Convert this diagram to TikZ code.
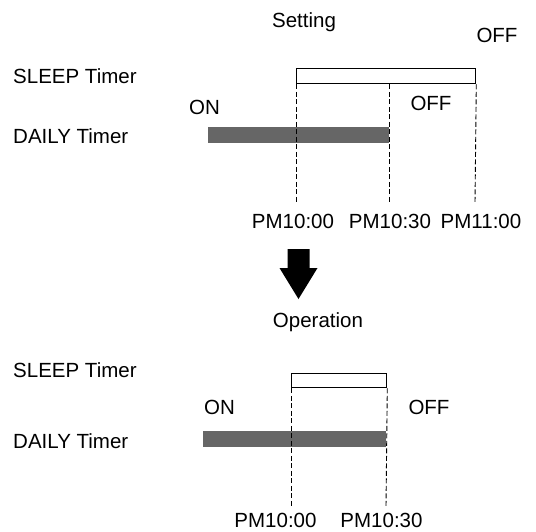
\documentclass[tikz,border=0pt]{standalone}
\usepackage{fontspec}
\setmainfont{Liberation Sans}
\usepackage{xcolor}
\usetikzlibrary{positioning, calc}

\begin{document}
\begin{tikzpicture}[
  x=1pt, y=-1pt,
  txt/.style={font=\fontsize{20.5}{24}\selectfont, inner sep=0pt, anchor=base},
  lefttxt/.style={txt, anchor=base west},
  sleepbox/.style={rectangle, draw=black, fill=white, line width=1.3pt,
    inner sep=0pt, anchor=north west, minimum height=15pt},
  dailybar/.style={rectangle, fill=black!60, draw=none,
    inner sep=0pt, anchor=north west, minimum height=16pt},
  dashline/.style={line width=0.9pt, dash pattern=on 5pt off 2.5pt}
]
\useasboundingbox (0,0) rectangle (536,531);

% --- Setting ---
\node[txt] (setting) at (304,27) {Setting};
\node[txt] (offtop)  at (497,42) {OFF};
\node[lefttxt] (sleepA_lbl) at (13,83)  {SLEEP Timer};
\node[lefttxt] (dailyA_lbl) at (13,143) {DAILY Timer};
\node[txt] (onA)  at (204.5,114) {ON};
\node[txt] (offA) at (431,110)   {OFF};

\node[sleepbox, minimum width=179pt] (sleepA) at (296,68) {};
\node[dailybar, minimum width=181pt] (dailyA) at (208,127) {};

\coordinate (tA1) at (296,203);
\coordinate (tA2) at (389,203);
\coordinate (tA3) at (475,203);
\draw[dashline] (sleepA.south west) -- (tA1);
\draw[dashline] (tA2 |- sleepA.south) -- (tA2);
\draw[dashline] (sleepA.south east) -- (tA3);

\node[txt] (pmA1) at (293,228) {PM10:00};
\node[txt] (pmA2) at (390,228) {PM10:30};
\node[txt] (pmA3) at (481,228) {PM11:00};

% --- arrow ---
\fill[black] (287.5,249) -- (309.5,249) -- (309.5,268) -- (317.5,268)
  -- (298.5,299) -- (279.5,268) -- (287.5,268) -- cycle;

% --- Operation ---
\node[txt] (operation) at (318,327) {Operation};
\node[lefttxt] (sleepB_lbl) at (13,377) {SLEEP Timer};
\node[lefttxt] (dailyB_lbl) at (13,448) {DAILY Timer};
\node[txt] (onB)  at (219.5,414) {ON};
\node[txt] (offB) at (429,414)   {OFF};

\node[sleepbox, minimum width=95pt, minimum height=14pt] (sleepB) at (291,373) {};
\node[dailybar, minimum width=183pt] (dailyB) at (203,431) {};

\coordinate (tB1) at (291,507);
\coordinate (tB2) at (386,507);
\draw[dashline] (sleepB.south west) -- (tB1);
\draw[dashline] (sleepB.south east) -- (tB2);

\node[txt] (pmB1) at (275.5,527) {PM10:00};
\node[txt] (pmB2) at (381.5,527) {PM10:30};

\end{tikzpicture}
\end{document}
